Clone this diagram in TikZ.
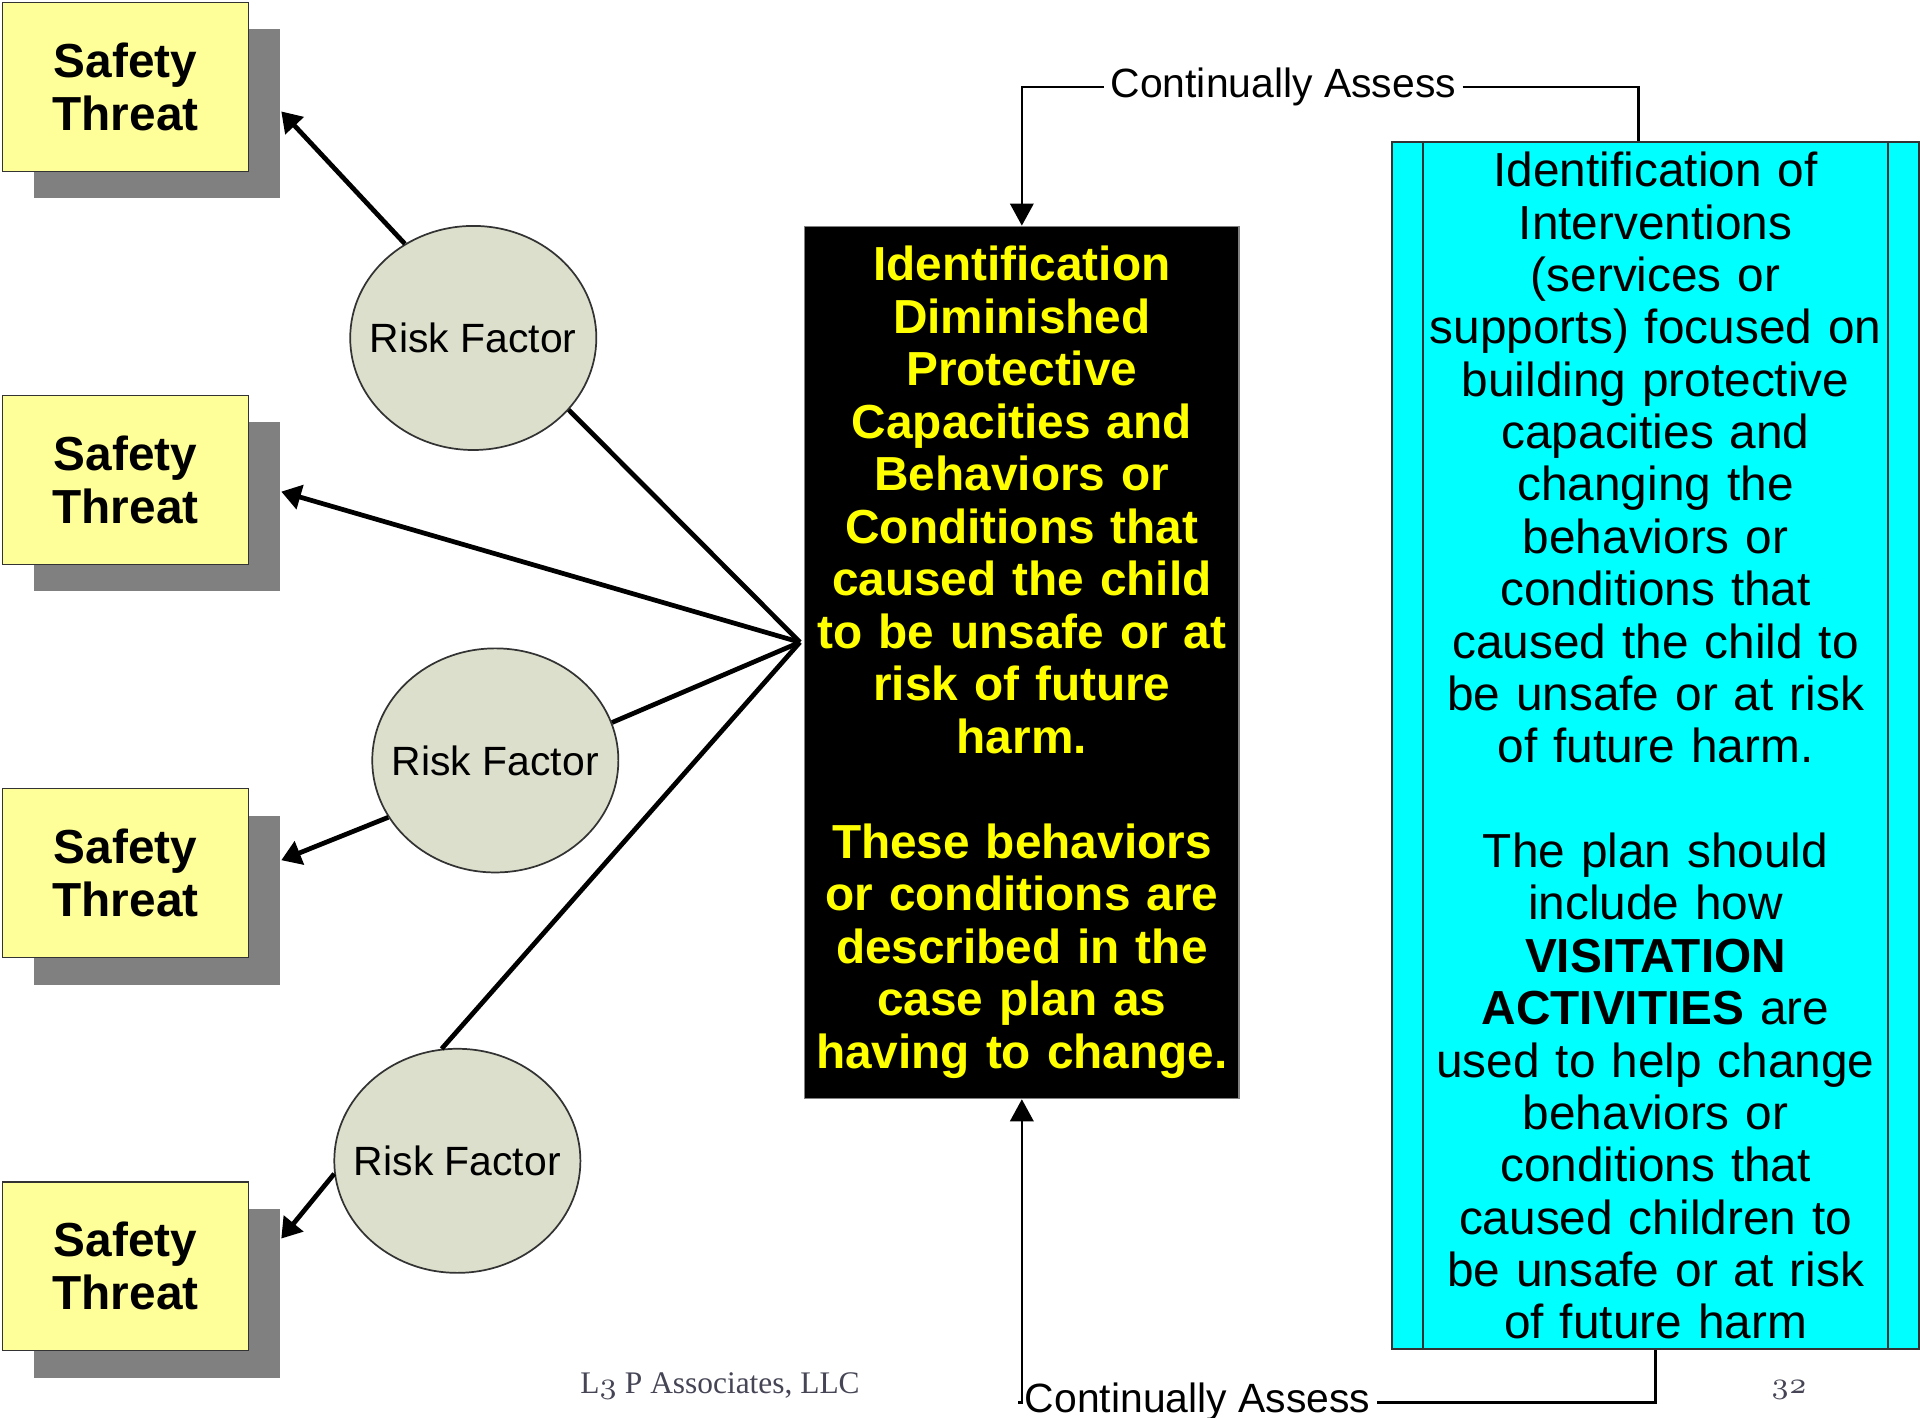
\documentclass[tikz,border=0pt]{standalone}
\usepackage{fontspec}
\setmainfont{Liberation Sans}
\newfontfamily\footfont{Liberation Serif}
\usetikzlibrary{arrows.meta,shapes.geometric,shadows}
\definecolor{stYellow}{HTML}{FFFF99}
\definecolor{shadowGray}{HTML}{808080}
\definecolor{rfGray}{HTML}{DCDFCB}
\definecolor{boxLine}{HTML}{333333}
\definecolor{ylwText}{HTML}{FFFF00}
\definecolor{cyanFill}{HTML}{00FFFF}
\definecolor{footGray}{HTML}{454555}

\begin{document}
\begin{tikzpicture}[->,>={Triangle[length=0.16cm,width=0.2cm]},line width=1.1pt,node distance=3.21cm]
\tikzstyle{threat}=[shape=rectangle,draw=boxLine,line width=0.4pt,fill=stYellow,minimum width=2.01cm,minimum height=1.38cm,inner sep=0pt,align=center,font=\bfseries\fontsize{11.1}{12.2}\selectfont,drop shadow={shadow xshift=0.255cm,shadow yshift=-0.22cm,fill=shadowGray,opacity=1}]
\tikzstyle{risk}=[shape=ellipse,draw=boxLine,line width=0.4pt,fill=rfGray,minimum width=2.01cm,minimum height=1.83cm,inner sep=0pt,font=\fontsize{9.5}{11}\selectfont]
\tikzstyle{assess}=[inner sep=1pt,font=\fontsize{9.5}{11}\selectfont]
\tikzstyle{assessline}=[line width=0.6pt,>={Triangle[length=0.18cm,width=0.19cm]}]
\path[use as bounding box,fill=white] (0,0) rectangle (15.68,-11.58);
% threats and risk factors
\node[threat] (st1) at (1.025,-0.71) {Safety\\Threat};
\node[threat] (st2) [below of=st1] {Safety\\Threat};
\node[threat] (st3) [below of=st2] {Safety\\Threat};
\node[threat] (st4) [below of=st3] {Safety\\Threat};
\node[risk] (rf1) at (3.865,-2.76) {\makebox[0pt]{Risk Factor}};
\node[risk] (rf2) at (4.045,-6.21) {\makebox[0pt]{Risk Factor}};
\node[risk] (rf3) at (3.735,-9.48) {\makebox[0pt]{Risk Factor}};
% diminished protective capacities
\node[shape=rectangle,draw=gray,line width=0.4pt,fill=black,text=ylwText,minimum width=3.55cm,minimum height=7.12cm,inner sep=0pt,text width=3.55cm,align=center,font=\bfseries\fontsize{11.1}{12.2}\selectfont] (dpc) at (8.345,-5.41) {Identification\\Diminished\\Protective\\Capacities and\\Behaviors or\\Conditions that\\caused the child\\to be unsafe or at\\risk of future\\harm.\\[12.2pt]These behaviors\\or conditions are\\described in the\\case plan as\\having to change.};
% interventions
\node[shape=rectangle,draw=boxLine,line width=0.5pt,fill=cyanFill,minimum width=4.30cm,minimum height=9.86cm,inner sep=0pt,text width=3.78cm,align=center,font=\fontsize{11.1}{12.17}\selectfont] (plan) at (13.52,-6.09) {Identification of\\Interventions\\(services or\\supports) focused on\\building protective\\capacities and\\changing the\\behaviors or\\conditions that\\caused the child to\\be unsafe or at risk\\of future harm.\\[12.17pt]The plan should\\include how\\\textbf{VISITATION}\\\textbf{ACTIVITIES} are\\used to help change\\behaviors or\\conditions that\\caused children to\\be unsafe or at risk\\of future harm};
\draw[-,line width=0.5pt,draw=boxLine] ([xshift=0.26cm]plan.north west) -- ([xshift=0.26cm]plan.south west);
\draw[-,line width=0.5pt,draw=boxLine] ([xshift=-0.26cm]plan.north east) -- ([xshift=-0.26cm]plan.south east);
% arrow ends on the shadows
\coordinate (hub) at ([xshift=-0.03cm,yshift=0.165cm]dpc.west);
\coordinate (t1) at ([xshift=0.26cm,yshift=-0.2cm]st1.east);
\coordinate (t2) at ([xshift=0.26cm,yshift=-0.095cm]st2.east);
\coordinate (t3) at ([xshift=0.26cm,yshift=0.105cm]st3.east);
\coordinate (t4) at ([xshift=0.26cm,yshift=0.225cm]st4.east);
\path (hub) edge[-] (rf1.323)
	(rf1.126) edge (t1)
	(hub) edge (t2)
	(hub) edge[-] (rf2.18)
	(rf2.208) edge (t3)
	(hub) edge[-] (rf3.98)
	(rf3.186) edge (t4);
% continually assess
\node[assess] (topA) at (10.48,-0.71) {Continually Assess};
\draw[assessline] (topA.west) -| (dpc.north);
\draw[assessline,-] (topA.east) -| ([xshift=-0.14cm]plan.north);
\node[assess] (botA) at (9.78,-11.453) {Continually Assess};
\draw[assessline,-] (plan.south) |- (botA.east);
\draw[assessline] (botA.west) -| (dpc.south);
% footer
\node[font=\footfont\fontsize{7.3}{9}\selectfont,text=footGray,anchor=base] (credit) at (5.88,-11.38) {L{\usefont{OML}{cmm}{m}{it}3} P Associates, LLC};
\node[font=\footfont\fontsize{7.3}{9}\selectfont,text=footGray,anchor=base] (pagenum) at (14.61,-11.38) {{\usefont{OML}{cmm}{m}{it}32}};
\end{tikzpicture}
\end{document}
